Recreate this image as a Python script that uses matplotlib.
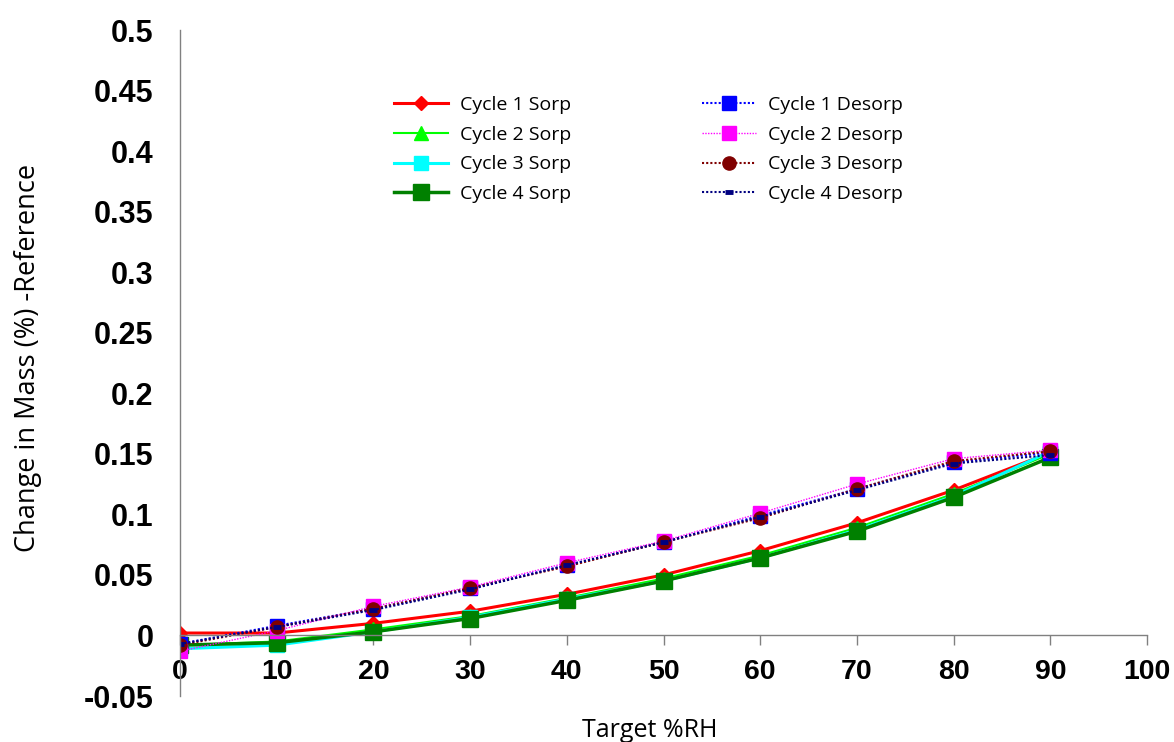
import matplotlib
matplotlib.use("Agg")
import matplotlib.pyplot as plt
from matplotlib.ticker import FormatStrFormatter

# ---- data ----
rh = [0, 10, 20, 30, 40, 50, 60, 70, 80, 90]
c1_sorp = [0.002, 0.002, 0.010, 0.020, 0.034, 0.050, 0.070, 0.093, 0.120, 0.151]
c2_sorp = [-0.008, -0.005, 0.005, 0.016, 0.031, 0.047, 0.066, 0.089, 0.117, 0.150]
c3_sorp = [-0.011, -0.008, 0.003, 0.015, 0.030, 0.045, 0.064, 0.087, 0.115, 0.152]
c4_sorp = [-0.008, -0.006, 0.003, 0.014, 0.029, 0.045, 0.064, 0.086, 0.114, 0.147]
c1_desorp = [-0.007, 0.008, 0.022, 0.039, 0.058, 0.077, 0.099, 0.121, 0.143, 0.151]
c2_desorp = [-0.013, 0.004, 0.024, 0.040, 0.060, 0.078, 0.101, 0.125, 0.146, 0.153]
c3_desorp = [-0.008, 0.007, 0.022, 0.039, 0.057, 0.077, 0.097, 0.121, 0.144, 0.152]
c4_desorp = [-0.007, 0.007, 0.021, 0.038, 0.058, 0.077, 0.098, 0.120, 0.142, 0.149]

labels = ["Cycle 1 Sorp", "Cycle 2 Sorp", "Cycle 3 Sorp", "Cycle 4 Sorp",
          "Cycle 1 Desorp", "Cycle 2 Desorp", "Cycle 3 Desorp", "Cycle 4 Desorp"]
xticks = [0, 10, 20, 30, 40, 50, 60, 70, 80, 90, 100]
yticks = [-0.05, 0, 0.05, 0.1, 0.15, 0.2, 0.25, 0.3, 0.35, 0.4, 0.45, 0.5]

fig = plt.figure(figsize=(11.74, 7.42), dpi=100)
ax = fig.add_axes([180/1174, 1-696/742, (1147-180)/1174, (696-30)/742])

dot = (0, (1, 1))
series = [
    (c1_sorp, dict(color="#FF0000", lw=2.2, ls="-", marker="D", ms=7)),
    (c2_sorp, dict(color="#00FF00", lw=1.5, ls="-", marker="^", ms=10)),
    (c3_sorp, dict(color="#00FFFF", lw=2.2, ls="-", marker="s", ms=10)),
    (c4_sorp, dict(color="#008000", lw=2.5, ls="-", marker="s", ms=11)),
    (c1_desorp, dict(color="#0000FF", lw=1.5, ls=dot, marker="s", ms=10)),
    (c2_desorp, dict(color="#FF00FF", lw=1.0, ls=dot, marker="s", ms=10.5)),
    (c3_desorp, dict(color="#800000", lw=1.5, ls=dot, marker="o", ms=9.5)),
    (c4_desorp, dict(color="#000080", lw=1.5, ls=dot, marker="_", ms=6, mew=3.5)),
]
for (vals, st), lab in zip(series, labels):
    ax.plot(rh, vals, label=lab, markeredgecolor=st["color"], **st)

ax.set_xlim(0, 100)
ax.set_ylim(-0.05, 0.5)
ax.set_xticks(xticks)
ax.set_yticks(yticks)
ax.yaxis.set_major_formatter(FormatStrFormatter("%g"))

for s in ["top", "right"]:
    ax.spines[s].set_visible(False)
ax.spines["bottom"].set_position(("data", 0))
for s in ["bottom", "left"]:
    ax.spines[s].set_color("#808080")
    ax.spines[s].set_linewidth(1.0)

ax.tick_params(axis="x", direction="out", length=7, width=1, color="#808080", pad=10)
ax.tick_params(axis="y", length=0, pad=19)
for t in ax.get_xticklabels():
    t.set_fontfamily("Liberation Sans")
    t.set_fontweight("bold")
    t.set_fontsize(20.5)
for t in ax.get_yticklabels():
    t.set_fontfamily("Liberation Sans")
    t.set_fontweight("bold")
    t.set_fontsize(22)

ax.set_xlabel("Target %RH", fontfamily="Open Sans", fontsize=18)
ax.xaxis.set_label_coords((650-180)/967, -0.033)
ax.set_ylabel("Change in Mass (%) -Reference", fontfamily="Open Sans", fontsize=19.5)
ax.yaxis.set_label_coords((42-180)/967, (696-358)/666)

leg = ax.legend(ncol=2, loc="upper left",
                bbox_to_anchor=(394/1174, 1-96/742), bbox_transform=fig.transFigure,
                frameon=False, prop={"family": "Open Sans", "size": 14},
                handlelength=2.8, handletextpad=0.6, columnspacing=6.7,
                labelspacing=0.6, borderpad=0, borderaxespad=0)

fig.savefig("out.png", dpi=100)
